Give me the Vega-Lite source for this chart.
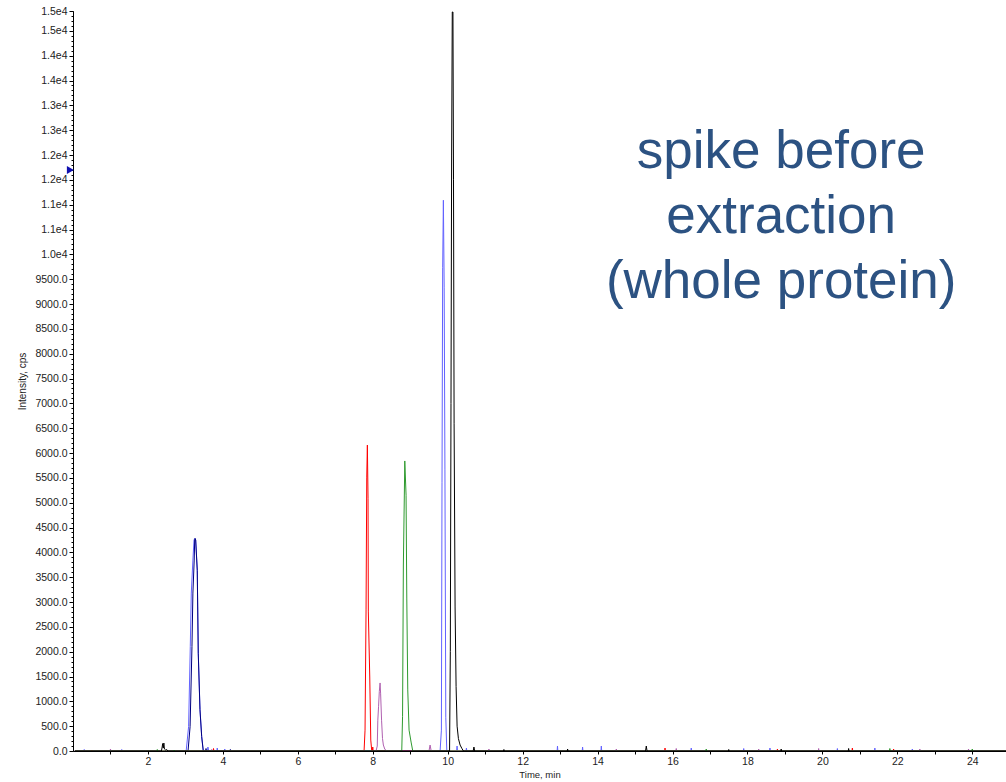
{
  "$schema": "https://vega.github.io/schema/vega-lite/v6.json",
  "autosize": {"type": "none"},
  "width": 933,
  "height": 740,
  "padding": {"left": 73, "top": 11, "right": 0, "bottom": 31},
  "background": "white",
  "config": {"view": {"stroke": null}, "font": "Liberation Sans"},
  "datasets": {
    "traces": [
      {"s":"blue","t":0.05,"i":0},{"s":"blue","t":0.29,"i":0},{"s":"blue","t":0.30,"i":30},{"s":"blue","t":0.31,"i":0},
      {"s":"blue","t":1.29,"i":0},{"s":"blue","t":1.30,"i":30},{"s":"blue","t":1.31,"i":0},
      {"s":"blue","t":3.020,"i":0},{"s":"blue","t":3.085,"i":490},{"s":"blue","t":3.130,"i":2100},{"s":"blue","t":3.157,"i":3180},{"s":"blue","t":3.200,"i":3845},{"s":"blue","t":3.230,"i":4250},{"s":"blue","t":3.255,"i":4280},{"s":"blue","t":3.274,"i":4250},{"s":"blue","t":3.316,"i":3640},{"s":"blue","t":3.343,"i":1970},{"s":"blue","t":3.389,"i":830},{"s":"blue","t":3.434,"i":290},{"s":"blue","t":3.477,"i":0},
      {"s":"blue","t":3.59,"i":0},{"s":"blue","t":3.60,"i":80},{"s":"blue","t":3.62,"i":0},
      {"s":"blue","t":3.84,"i":0},{"s":"blue","t":3.85,"i":60},{"s":"blue","t":3.86,"i":0},
      {"s":"blue","t":4.04,"i":0},{"s":"blue","t":4.05,"i":40},{"s":"blue","t":4.06,"i":0},
      {"s":"blue","t":9.797,"i":0},{"s":"blue","t":9.832,"i":420},{"s":"blue","t":9.848,"i":5400},{"s":"blue","t":9.866,"i":9740},{"s":"blue","t":9.885,"i":11090},{"s":"blue","t":9.906,"i":9340},{"s":"blue","t":9.926,"i":5660},{"s":"blue","t":9.949,"i":680},{"s":"blue","t":9.976,"i":0},
      {"s":"blue","t":10.24,"i":0},{"s":"blue","t":10.25,"i":100},{"s":"blue","t":10.26,"i":0},
      {"s":"blue","t":10.49,"i":0},{"s":"blue","t":10.50,"i":60},{"s":"blue","t":10.51,"i":0},
      {"s":"blue","t":12.92,"i":0},{"s":"blue","t":12.93,"i":100},{"s":"blue","t":12.94,"i":0},
      {"s":"blue","t":13.59,"i":0},{"s":"blue","t":13.60,"i":80},{"s":"blue","t":13.61,"i":0},
      {"s":"blue","t":14.09,"i":0},{"s":"blue","t":14.10,"i":100},{"s":"blue","t":14.11,"i":0},
      {"s":"blue","t":16.49,"i":0},{"s":"blue","t":16.50,"i":60},{"s":"blue","t":16.51,"i":0},
      {"s":"blue","t":17.89,"i":0},{"s":"blue","t":17.90,"i":50},{"s":"blue","t":17.91,"i":0},
      {"s":"blue","t":18.59,"i":0},{"s":"blue","t":18.60,"i":60},{"s":"blue","t":18.61,"i":0},
      {"s":"blue","t":20.39,"i":0},{"s":"blue","t":20.40,"i":50},{"s":"blue","t":20.41,"i":0},
      {"s":"blue","t":21.39,"i":0},{"s":"blue","t":21.40,"i":60},{"s":"blue","t":21.41,"i":0},
      {"s":"blue","t":22.39,"i":0},{"s":"blue","t":22.40,"i":40},{"s":"blue","t":22.41,"i":0},
      {"s":"blue","t":24.9,"i":0},

      {"s":"navy","t":0.05,"i":0},{"s":"navy","t":3.07,"i":0},{"s":"navy","t":3.125,"i":490},{"s":"navy","t":3.175,"i":2100},{"s":"navy","t":3.200,"i":3180},{"s":"navy","t":3.235,"i":3845},{"s":"navy","t":3.248,"i":4250},{"s":"navy","t":3.258,"i":4280},{"s":"navy","t":3.274,"i":4250},{"s":"navy","t":3.316,"i":3640},{"s":"navy","t":3.343,"i":1970},{"s":"navy","t":3.389,"i":830},{"s":"navy","t":3.434,"i":290},{"s":"navy","t":3.477,"i":0},
      {"s":"navy","t":3.54,"i":0},{"s":"navy","t":3.55,"i":50},{"s":"navy","t":3.56,"i":0},
      {"s":"navy","t":4.19,"i":0},{"s":"navy","t":4.20,"i":30},{"s":"navy","t":4.21,"i":0},
      {"s":"navy","t":24.9,"i":0},

      {"s":"red","t":0.05,"i":0},{"s":"red","t":0.49,"i":0},{"s":"red","t":0.50,"i":20},{"s":"red","t":0.51,"i":0},
      {"s":"red","t":3.74,"i":0},{"s":"red","t":3.75,"i":50},{"s":"red","t":3.76,"i":0},
      {"s":"red","t":7.768,"i":0},{"s":"red","t":7.794,"i":420},{"s":"red","t":7.821,"i":2840},{"s":"red","t":7.840,"i":5515},{"s":"red","t":7.856,"i":6160},{"s":"red","t":7.874,"i":5090},{"s":"red","t":7.882,"i":2800},{"s":"red","t":7.920,"i":1490},{"s":"red","t":7.947,"i":220},{"s":"red","t":7.973,"i":0},
      {"s":"red","t":7.99,"i":0},{"s":"red","t":8.00,"i":80},{"s":"red","t":8.01,"i":0},
      {"s":"red","t":15.79,"i":0},{"s":"red","t":15.80,"i":60},{"s":"red","t":15.81,"i":0},
      {"s":"red","t":18.79,"i":0},{"s":"red","t":18.80,"i":40},{"s":"red","t":18.81,"i":0},
      {"s":"red","t":20.79,"i":0},{"s":"red","t":20.80,"i":60},{"s":"red","t":20.81,"i":0},
      {"s":"red","t":21.89,"i":0},{"s":"red","t":21.90,"i":40},{"s":"red","t":21.91,"i":0},
      {"s":"red","t":24.9,"i":0},

      {"s":"purple","t":0.05,"i":0},{"s":"purple","t":0.99,"i":0},{"s":"purple","t":1.00,"i":40},{"s":"purple","t":1.01,"i":0},
      {"s":"purple","t":3.69,"i":0},{"s":"purple","t":3.70,"i":30},{"s":"purple","t":3.71,"i":0},
      {"s":"purple","t":8.088,"i":0},{"s":"purple","t":8.12,"i":100},{"s":"purple","t":8.135,"i":620},{"s":"purple","t":8.155,"i":900},{"s":"purple","t":8.175,"i":1200},{"s":"purple","t":8.195,"i":1370},{"s":"purple","t":8.21,"i":1150},{"s":"purple","t":8.235,"i":620},{"s":"purple","t":8.26,"i":250},{"s":"purple","t":8.283,"i":120},{"s":"purple","t":8.32,"i":40},{"s":"purple","t":8.37,"i":0},
      {"s":"purple","t":9.50,"i":0},{"s":"purple","t":9.53,"i":120},{"s":"purple","t":9.56,"i":0},
      {"s":"purple","t":11.09,"i":0},{"s":"purple","t":11.10,"i":40},{"s":"purple","t":11.11,"i":0},
      {"s":"purple","t":14.49,"i":0},{"s":"purple","t":14.50,"i":40},{"s":"purple","t":14.51,"i":0},
      {"s":"purple","t":16.09,"i":0},{"s":"purple","t":16.10,"i":50},{"s":"purple","t":16.11,"i":0},
      {"s":"purple","t":18.29,"i":0},{"s":"purple","t":18.30,"i":40},{"s":"purple","t":18.31,"i":0},
      {"s":"purple","t":19.89,"i":0},{"s":"purple","t":19.90,"i":50},{"s":"purple","t":19.91,"i":0},
      {"s":"purple","t":22.59,"i":0},{"s":"purple","t":22.60,"i":40},{"s":"purple","t":22.61,"i":0},
      {"s":"purple","t":23.89,"i":0},{"s":"purple","t":23.90,"i":40},{"s":"purple","t":23.91,"i":0},
      {"s":"purple","t":24.9,"i":0},

      {"s":"green","t":0.05,"i":0},{"s":"green","t":2.24,"i":0},{"s":"green","t":2.25,"i":30},{"s":"green","t":2.26,"i":0},
      {"s":"green","t":2.69,"i":0},{"s":"green","t":2.70,"i":20},{"s":"green","t":2.71,"i":0},
      {"s":"green","t":8.774,"i":0},{"s":"green","t":8.795,"i":690},{"s":"green","t":8.817,"i":3745},{"s":"green","t":8.855,"i":5840},{"s":"green","t":8.889,"i":5150},{"s":"green","t":8.908,"i":3080},{"s":"green","t":8.934,"i":1230},{"s":"green","t":8.969,"i":420},{"s":"green","t":9.023,"i":180},{"s":"green","t":9.068,"i":0},
      {"s":"green","t":16.89,"i":0},{"s":"green","t":16.90,"i":40},{"s":"green","t":16.91,"i":0},
      {"s":"green","t":21.79,"i":0},{"s":"green","t":21.80,"i":50},{"s":"green","t":21.81,"i":0},
      {"s":"green","t":23.99,"i":0},{"s":"green","t":24.00,"i":40},{"s":"green","t":24.01,"i":0},
      {"s":"green","t":24.9,"i":0},

      {"s":"black","t":0.05,"i":0},{"s":"black","t":2.36,"i":0},{"s":"black","t":2.38,"i":80},{"s":"black","t":2.393,"i":150},{"s":"black","t":2.41,"i":60},{"s":"black","t":2.425,"i":160},{"s":"black","t":2.44,"i":40},{"s":"black","t":2.47,"i":20},{"s":"black","t":2.50,"i":30},{"s":"black","t":2.53,"i":0},
      {"s":"black","t":10.05,"i":0},{"s":"black","t":10.07,"i":2000},{"s":"black","t":10.088,"i":7000},{"s":"black","t":10.105,"i":12000},{"s":"black","t":10.122,"i":14880},{"s":"black","t":10.14,"i":14880},{"s":"black","t":10.155,"i":11500},{"s":"black","t":10.171,"i":6600},{"s":"black","t":10.197,"i":2900},{"s":"black","t":10.224,"i":1300},{"s":"black","t":10.251,"i":500},{"s":"black","t":10.286,"i":250},{"s":"black","t":10.331,"i":120},{"s":"black","t":10.38,"i":50},{"s":"black","t":10.42,"i":0},
      {"s":"black","t":10.68,"i":0},{"s":"black","t":10.70,"i":80},{"s":"black","t":10.72,"i":0},
      {"s":"black","t":11.49,"i":0},{"s":"black","t":11.50,"i":30},{"s":"black","t":11.51,"i":0},
      {"s":"black","t":13.19,"i":0},{"s":"black","t":13.20,"i":40},{"s":"black","t":13.21,"i":0},
      {"s":"black","t":15.28,"i":0},{"s":"black","t":15.30,"i":100},{"s":"black","t":15.32,"i":0},
      {"s":"black","t":17.49,"i":0},{"s":"black","t":17.50,"i":30},{"s":"black","t":17.51,"i":0},
      {"s":"black","t":18.89,"i":0},{"s":"black","t":18.90,"i":40},{"s":"black","t":18.91,"i":0},
      {"s":"black","t":20.69,"i":0},{"s":"black","t":20.70,"i":50},{"s":"black","t":20.71,"i":0},
      {"s":"black","t":24.9,"i":0}
    ],
    "marker": [{"t": -0.07, "i": 11698}],
    "note": [{"t": 18.9, "i": 11730, "label": "spike before\nextraction\n(whole protein)"}]
  },
  "layer": [
    {
      "data": {"name": "traces"},
      "mark": {"type": "line", "strokeWidth": 1, "clip": true, "interpolate": "linear"},
      "encoding": {
        "x": {
          "field": "t", "type": "quantitative",
          "scale": {"domain": [0, 24.9], "nice": false, "zero": false},
          "axis": {
            "values": [1,2,3,4,5,6,7,8,9,10,11,12,13,14,15,16,17,18,19,20,21,22,23,24],
            "labelExpr": "datum.value % 2 == 0 ? datum.value : ''",
            "grid": false, "domainColor": "#000", "tickColor": "#000", "tickSize": 3,
            "labelFont": "Liberation Sans", "labelFontSize": 10.5, "labelColor": "#222", "labelPadding": 2,
            "title": "Time, min", "titleFont": "Liberation Sans", "titleFontSize": 9.5, "titleFontWeight": "normal", "titleColor": "#222", "titlePadding": 3
          }
        },
        "y": {
          "field": "i", "type": "quantitative",
          "scale": {"domain": [0, 14900], "nice": false},
          "axis": {
            "orient": "left",
            "values": [0,500,1000,1500,2000,2500,3000,3500,4000,4500,5000,5500,6000,6500,7000,7500,8000,8500,9000,9500,10000,10500,11000,11500,12000,12500,13000,13500,14000,14500,14900],
            "labelExpr": "datum.value >= 10000 ? format(round(datum.value/1000)/10, '.1f') + 'e4' : format(datum.value, '.1f')",
            "grid": false, "domainColor": "#000", "tickColor": "#000", "tickSize": 4,
            "labelFont": "Liberation Sans", "labelFontSize": 10.5, "labelColor": "#222", "labelPadding": 2,
            "title": "Intensity, cps", "titleFont": "Liberation Sans", "titleFontSize": 10, "titleFontWeight": "normal", "titleColor": "#222", "titlePadding": 7
          }
        },
        "color": {
          "field": "s", "type": "nominal",
          "scale": {"domain": ["blue","navy","red","purple","green","black"], "range": ["#6262ff","#000080","#ff0000","#b060b0","#2f9a2f","#000000"]},
          "legend": null
        }
      }
    },
    {
      "data": {"name": "marker"},
      "mark": {"type": "point", "shape": "triangle-right", "filled": true, "size": 65, "color": "#1010b0", "opacity": 1},
      "encoding": {
        "x": {"field": "t", "type": "quantitative", "axis": null},
        "y": {
          "field": "i", "type": "quantitative",
          "axis": {"orient": "left", "labels": false, "domain": false, "grid": false, "tickCount": 150, "tickSize": 2, "tickColor": "#000", "title": null}
        }
      }
    },
    {
      "data": {"name": "note"},
      "mark": {"type": "text", "align": "center", "baseline": "alphabetic", "fontSize": 53, "lineHeight": 65, "lineBreak": "\n", "font": "Liberation Sans", "color": "#2c5282"},
      "encoding": {
        "x": {"field": "t", "type": "quantitative", "axis": null},
        "y": {"field": "i", "type": "quantitative", "axis": null},
        "text": {"field": "label"}
      }
    }
  ],
  "resolve": {"axis": {"y": "independent", "x": "independent"}}
}
